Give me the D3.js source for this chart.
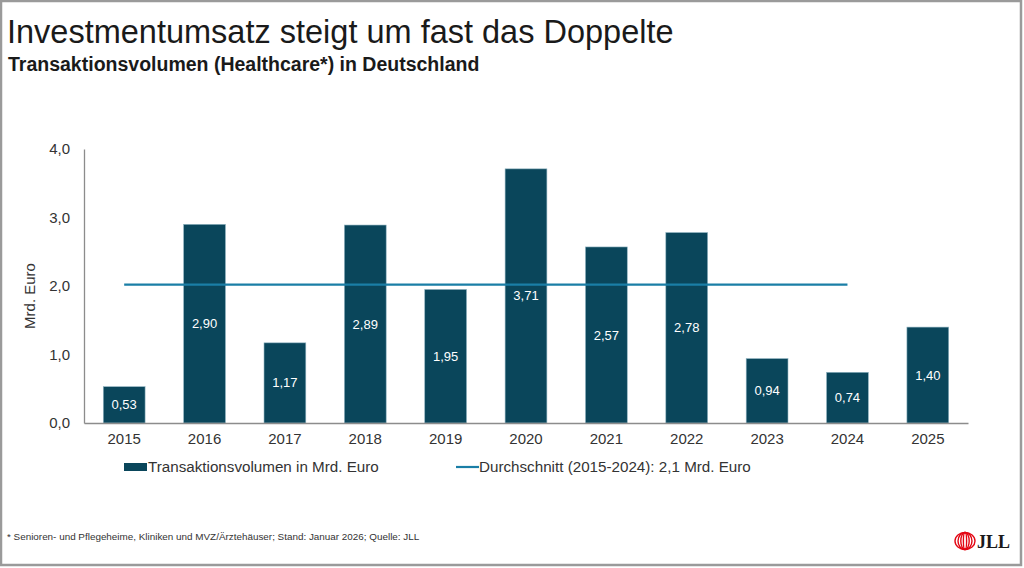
<!DOCTYPE html>
<html>
<head>
<meta charset="utf-8">
<script src="https://cdn.jsdelivr.net/npm/d3@7"></script>
<style>
  body { margin: 0; background: #fff; }
  svg { display: block; font-family: 'Liberation Sans', Arial, sans-serif; }
</style>
</head>
<body>
<svg id="chart" width="1024" height="568"></svg>
<script>
const years = ["2015", "2016", "2017", "2018", "2019", "2020", "2021", "2022", "2023", "2024", "2025"];
const volumes = [0.53, 2.90, 1.17, 2.89, 1.95, 3.71, 2.57, 2.78, 0.94, 0.74, 1.40];
const average = 2.02;
const averageYears = ["2015", "2024"];
const yTicks = [0, 1, 2, 3, 4];

const BAR_COLOR = "#0a465b";
const LINE_COLOR = "#1a7ea6";
const TEXT_COLOR = "#333";
const fmt = v => d3.format(".2f")(v).replace(".", ",");

const svg = d3.select("#chart");

// frame
svg.append("rect")
    .attr("x", 1).attr("y", 1).attr("width", 1020).attr("height", 564)
    .attr("fill", "none").attr("stroke", "#9a9a9a").attr("stroke-width", 2.5);

svg.append("text")
    .attr("x", 7).attr("y", 43)
    .style("font-size", "32.5px").style("fill", "#1a1a1a")
    .text("Investmentumsatz steigt um fast das Doppelte");

svg.append("text")
    .attr("x", 8).attr("y", 71)
    .style("font-size", "19.5px").style("font-weight", "bold").style("fill", "#1a1a1a")
    .text("Transaktionsvolumen (Healthcare*) in Deutschland");

const x = d3.scaleBand().domain(years).range([84, 968]).paddingInner(0.48).paddingOuter(0.24);
const y = d3.scaleLinear().domain([0, 4]).range([423, 149]);

// bars
const bars = svg.append("g");
bars.selectAll("rect")
    .data(volumes)
    .enter().append("rect")
    .attr("x", (d, i) => x(years[i]))
    .attr("y", d => y(d))
    .attr("width", x.bandwidth())
    .attr("height", d => y(0) - y(d))
    .attr("fill", BAR_COLOR)
    .attr("stroke", "#8fb3c0")
    .attr("stroke-width", 0.6);

// average line
svg.append("line")
    .attr("x1", x(averageYears[0]) + x.bandwidth() / 2)
    .attr("x2", x(averageYears[1]) + x.bandwidth() / 2)
    .attr("y1", y(average)).attr("y2", y(average))
    .attr("stroke", LINE_COLOR).attr("stroke-width", 2.2);

// value labels
bars.selectAll("text")
    .data(volumes)
    .enter().append("text")
    .attr("x", (d, i) => x(years[i]) + x.bandwidth() / 2)
    .attr("y", d => (y(d) + y(0)) / 2)
    .attr("dy", "0.35em")
    .attr("text-anchor", "middle")
    .style("font-size", "13px").style("fill", "#fff")
    .text(d => fmt(d));

// axes
const yAxis = svg.append("g")
    .attr("transform", "translate(84,0)")
    .call(d3.axisLeft(y).tickValues(yTicks).tickSize(0).tickPadding(14).tickFormat(d => d3.format(".1f")(d).replace(".", ",")));
yAxis.select(".domain").attr("stroke", "#8c8c8c").attr("stroke-width", 1.3);
yAxis.selectAll("text").style("font-size", "15px").style("fill", TEXT_COLOR).style("font-family", "'Liberation Sans', Arial, sans-serif");

const xAxis = svg.append("g")
    .attr("transform", "translate(0,423)")
    .call(d3.axisBottom(x).tickSize(0).tickPadding(10));
xAxis.select(".domain").attr("stroke", "#8c8c8c").attr("stroke-width", 1.3);
xAxis.selectAll("text").style("font-size", "15px").style("fill", TEXT_COLOR).style("font-family", "'Liberation Sans', Arial, sans-serif");

svg.append("text")
    .attr("transform", "translate(35,296) rotate(-90)")
    .attr("text-anchor", "middle")
    .style("font-size", "15px").style("fill", TEXT_COLOR)
    .text("Mrd. Euro");

// legend
const legend = svg.append("g");
legend.append("rect")
    .attr("x", 124).attr("y", 463).attr("width", 23).attr("height", 8)
    .attr("fill", BAR_COLOR);
legend.append("text")
    .attr("x", 148).attr("y", 472)
    .style("font-size", "15.2px").style("fill", TEXT_COLOR)
    .text("Transaktionsvolumen in Mrd. Euro");
legend.append("line")
    .attr("x1", 456).attr("x2", 479).attr("y1", 467).attr("y2", 467)
    .attr("stroke", LINE_COLOR).attr("stroke-width", 2.2);
legend.append("text")
    .attr("x", 479).attr("y", 472)
    .style("font-size", "15.2px").style("fill", TEXT_COLOR)
    .text("Durchschnitt (2015-2024): 2,1 Mrd. Euro");

// footnote
svg.append("text")
    .attr("x", 7).attr("y", 540)
    .style("font-size", "9.9px").style("fill", "#333")
    .text("* Senioren- und Pflegeheime, Kliniken und MVZ/Ärztehäuser; Stand: Januar 2026; Quelle: JLL");

// JLL logo
const logo = svg.append("g").attr("transform", "translate(965,541)");
[10, 7, 4.2, 1.6].forEach(rx => {
    logo.append("ellipse")
        .attr("cx", 0).attr("cy", 0).attr("rx", rx).attr("ry", 8.5)
        .attr("fill", "none").attr("stroke", "#e30613").attr("stroke-width", 1.4);
});
logo.append("text")
    .attr("x", 12).attr("y", 7)
    .style("font-family", "'Liberation Serif', serif").style("font-weight", "bold")
    .style("font-size", "18px").style("fill", "#1a1a1a")
    .text("JLL");
</script>
</body>
</html>
